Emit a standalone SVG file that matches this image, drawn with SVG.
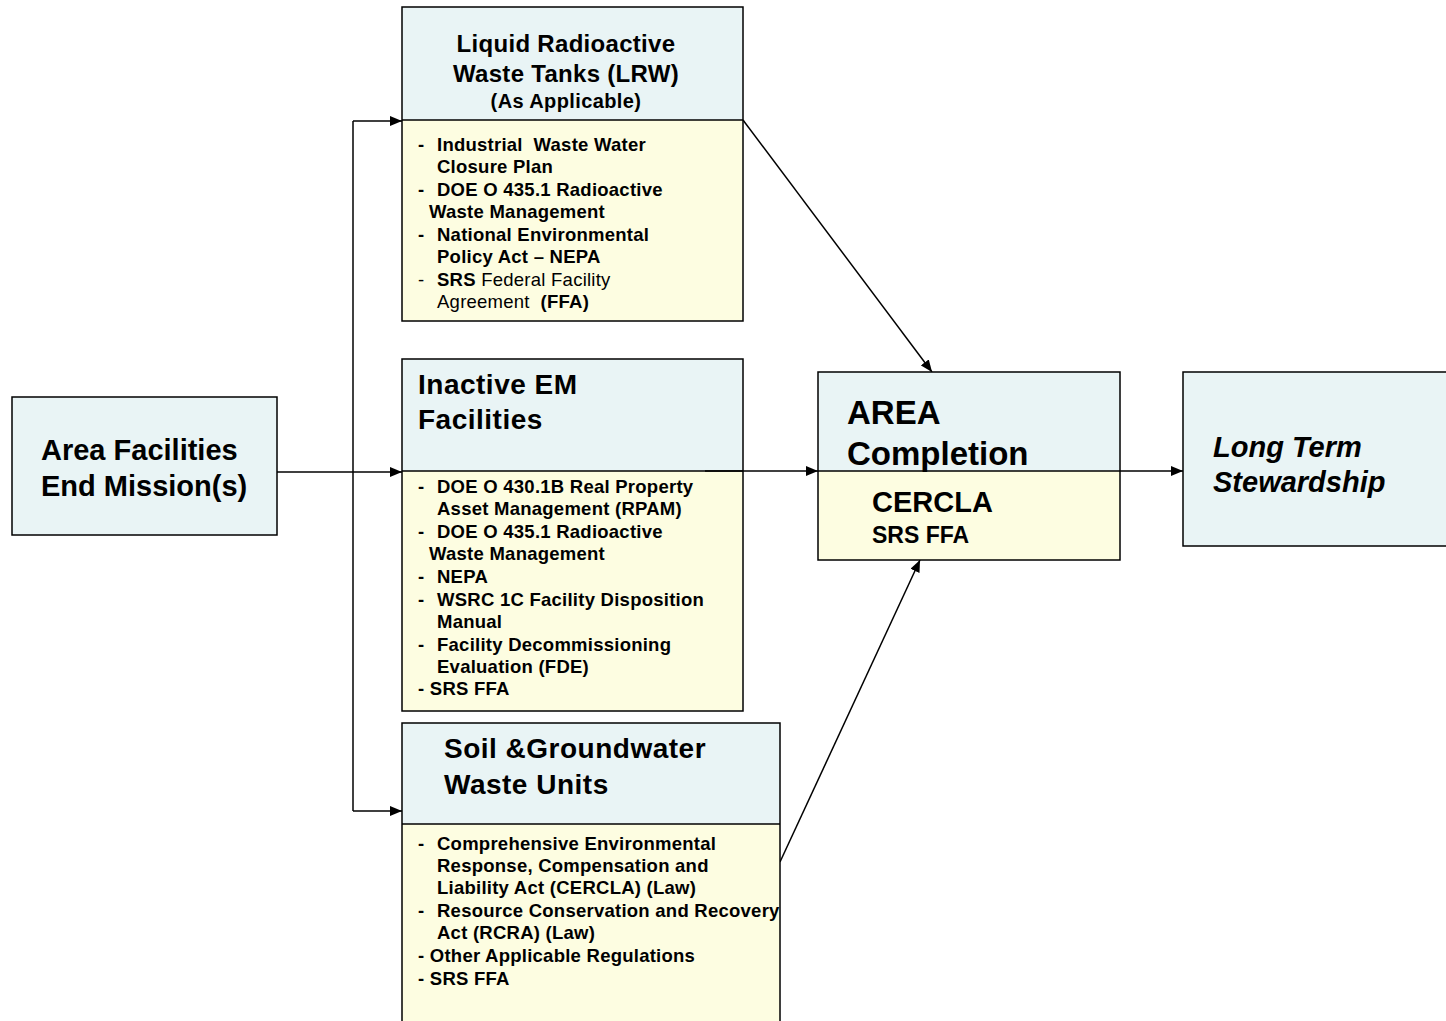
<svg xmlns="http://www.w3.org/2000/svg" width="1446" height="1021" viewBox="0 0 1446 1021">
<style>
.box{stroke:#000;stroke-width:1.5}
.blue{fill:#e9f4f5}
.yel{fill:#fdfde1}
.div{stroke:#000;stroke-width:1.5}
.t{font-family:"Liberation Sans",Arial,sans-serif;font-weight:bold;fill:#000}
.n{font-weight:normal}
.li{font-size:18.5px;letter-spacing:0.25px}
.conn{stroke:#000;stroke-width:1.5;fill:none}
.pre{white-space:pre}
</style>
<defs>
<marker id="ah" markerWidth="12" markerHeight="10" refX="12" refY="5" orient="auto" markerUnits="userSpaceOnUse">
<path d="M0,0 L12,5 L0,10 Z" fill="#000"/>
</marker>
</defs>
<rect width="1446" height="1021" fill="#fff"/>

<g id="connectors">
<path class="conn" d="M277,472 H353"/>
<path class="conn" d="M353,121 V811"/>
<path class="conn" d="M353,121 H402" marker-end="url(#ah)"/>
<path class="conn" d="M353,472 H402" marker-end="url(#ah)"/>
<path class="conn" d="M353,811 H402" marker-end="url(#ah)"/>
<path class="conn" d="M743,120 L932,372" marker-end="url(#ah)"/>
<path class="conn" d="M780,862 L920,560" marker-end="url(#ah)"/>
<path class="conn" d="M1120,471 H1183" marker-end="url(#ah)"/>
</g>

<g id="area-facilities">
<rect class="box blue" x="12" y="397" width="265" height="138"/>
<text class="t" x="41" y="460" font-size="29" fill="#222">Area Facilities</text>
<text class="t" x="41" y="496" font-size="29" fill="#222">End Mission(s)</text>
</g>

<g id="lrw">
<rect class="blue" x="402" y="7" width="341" height="113"/>
<rect class="yel" x="402" y="120" width="341" height="201"/>
<rect x="402" y="7" width="341" height="314" fill="none" class="box"/>
<line class="div" x1="402" y1="120" x2="743" y2="120"/>
<text class="t" x="566" y="52" font-size="24" letter-spacing="0.3" text-anchor="middle">Liquid Radioactive</text>
<text class="t" x="566" y="82" font-size="24" letter-spacing="0.3" text-anchor="middle">Waste Tanks (LRW)</text>
<text class="t" x="566" y="108" font-size="20" letter-spacing="0.4" text-anchor="middle">(As Applicable)</text>
<g class="t li">
<text x="418" y="151">-</text><text x="437" y="151" class="pre">Industrial  Waste Water</text>
<text x="437" y="173">Closure Plan</text>
<text x="418" y="196">-</text><text x="437" y="196">DOE O 435.1 Radioactive</text>
<text x="429" y="218">Waste Management</text>
<text x="418" y="241">-</text><text x="437" y="241">National Environmental</text>
<text x="437" y="263">Policy Act – NEPA</text>
<text x="418" y="286" class="n">-</text><text x="437" y="286">SRS<tspan class="n"> Federal Facility</tspan></text>
<text x="437" y="308" class="pre"><tspan class="n">Agreement  </tspan>(FFA)</text>
</g>
</g>

<g id="inactive-em">
<rect class="blue" x="402" y="359" width="341" height="112"/>
<rect class="yel" x="402" y="471" width="341" height="240"/>
<rect x="402" y="359" width="341" height="352" fill="none" class="box"/>
<line class="div" x1="402" y1="471" x2="743" y2="471"/>
<text class="t" x="418" y="394" font-size="28" letter-spacing="0.5">Inactive EM</text>
<text class="t" x="418" y="429" font-size="28" letter-spacing="0.5">Facilities</text>
<g class="t li">
<text x="418" y="493">-</text><text x="437" y="493">DOE O 430.1B Real Property</text>
<text x="437" y="515">Asset Management (RPAM)</text>
<text x="418" y="538">-</text><text x="437" y="538">DOE O 435.1 Radioactive</text>
<text x="429" y="560">Waste Management</text>
<text x="418" y="583">-</text><text x="437" y="583">NEPA</text>
<text x="418" y="606">-</text><text x="437" y="606">WSRC 1C Facility Disposition</text>
<text x="437" y="628">Manual</text>
<text x="418" y="651">-</text><text x="437" y="651">Facility Decommissioning</text>
<text x="437" y="673">Evaluation (FDE)</text>
<text x="418" y="695">- SRS FFA</text>
</g>
</g>
<path class="conn" d="M705,471 H818" marker-end="url(#ah)"/>

<g id="soil-groundwater">
<rect class="blue" x="402" y="723" width="378" height="101"/>
<rect class="yel" x="402" y="824" width="378" height="200"/>
<rect x="402" y="723" width="378" height="310" fill="none" class="box"/>
<line class="div" x1="402" y1="824" x2="780" y2="824"/>
<text class="t" x="444" y="758" font-size="28" letter-spacing="0.5">Soil &amp;Groundwater</text>
<text class="t" x="444" y="794" font-size="28" letter-spacing="0.5">Waste Units</text>
<g class="t li">
<text x="418" y="850">-</text><text x="437" y="850">Comprehensive Environmental</text>
<text x="437" y="872">Response, Compensation and</text>
<text x="437" y="894">Liability Act (CERCLA) (Law)</text>
<text x="418" y="917">-</text><text x="437" y="917">Resource Conservation and Recovery</text>
<text x="437" y="939">Act (RCRA) (Law)</text>
<text x="418" y="962">- Other Applicable Regulations</text>
<text x="418" y="985">- SRS FFA</text>
</g>
</g>

<g id="area-completion">
<rect class="blue" x="818" y="372" width="302" height="99"/>
<rect class="yel" x="818" y="471" width="302" height="89"/>
<rect x="818" y="372" width="302" height="188" fill="none" class="box"/>
<line class="div" x1="818" y1="471" x2="1120" y2="471"/>
<text class="t" x="847" y="424" font-size="33">AREA</text>
<text class="t" x="847" y="465" font-size="33">Completion</text>
<text class="t" x="872" y="512" font-size="29">CERCLA</text>
<text class="t" x="872" y="543" font-size="23">SRS FFA</text>
</g>

<g id="long-term-stewardship">
<rect class="box blue" x="1183" y="372" width="270" height="174"/>
<text class="t" x="1213" y="457" font-size="29" font-style="italic">Long Term</text>
<text class="t" x="1213" y="492" font-size="29" font-style="italic">Stewardship</text>
</g>
</svg>
